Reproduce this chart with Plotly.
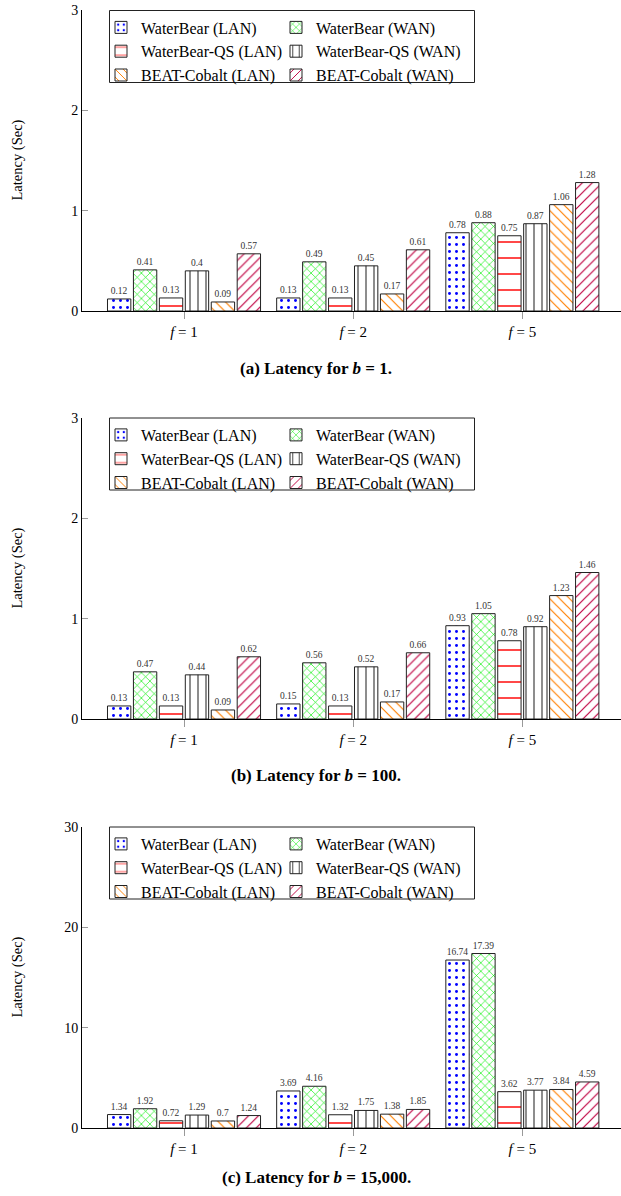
import plotly.graph_objects as go

# ---------------- data ----------------
f_values = ["1", "2", "5"]
f_ticktext = ["<i>f</i> = 1", "<i>f</i> = 2", "<i>f</i> = 5"]

series_names = [
    "WaterBear (LAN)", "WaterBear (WAN)",
    "WaterBear-QS (LAN)", "WaterBear-QS (WAN)",
    "BEAT-Cobalt (LAN)", "BEAT-Cobalt (WAN)",
]

# panel (a) b = 1
a_wb_lan = [0.12, 0.13, 0.78]
a_wb_wan = [0.41, 0.49, 0.88]
a_qs_lan = [0.13, 0.13, 0.75]
a_qs_wan = [0.4, 0.45, 0.87]
a_bc_lan = [0.09, 0.17, 1.06]
a_bc_wan = [0.57, 0.61, 1.28]

# panel (b) b = 100
b_wb_lan = [0.13, 0.15, 0.93]
b_wb_wan = [0.47, 0.56, 1.05]
b_qs_lan = [0.13, 0.13, 0.78]
b_qs_wan = [0.44, 0.52, 0.92]
b_bc_lan = [0.09, 0.17, 1.23]
b_bc_wan = [0.62, 0.66, 1.46]

# panel (c) b = 15,000
c_wb_lan = [1.34, 3.69, 16.74]
c_wb_wan = [1.92, 4.16, 17.39]
c_qs_lan = [0.72, 1.32, 3.62]
c_qs_wan = [1.29, 1.75, 3.77]
c_bc_lan = [0.7, 1.38, 3.84]
c_bc_wan = [1.24, 1.85, 4.59]

panels = [
    [a_wb_lan, a_wb_wan, a_qs_lan, a_qs_wan, a_bc_lan, a_bc_wan],
    [b_wb_lan, b_wb_wan, b_qs_lan, b_qs_wan, b_bc_lan, b_bc_wan],
    [c_wb_lan, c_wb_wan, c_qs_lan, c_qs_wan, c_bc_lan, c_bc_wan],
]
y_ranges = [[0, 3], [0, 3], [0, 30]]
y_dticks = [1, 1, 10]
captions = [
    "<b>(a) Latency for <i>b</i> = 1.</b>",
    "<b>(b) Latency for <i>b</i> = 100.</b>",
    "<b>(c) Latency for <i>b</i> = 15,000.</b>",
]

# ---------------- styling ----------------
FONT = "Liberation Serif"
patterns = [
    dict(shape=".", fgcolor="#0000ff", size=7, solidity=0.14, fgopacity=1),
    dict(shape="x", fgcolor="#00ee00", size=6, solidity=0.2, fgopacity=1),
    dict(shape="-", fgcolor="#ff0000", size=16, solidity=0.09, fgopacity=1),
    dict(shape="|", fgcolor="#333333", size=8, solidity=0.14, fgopacity=1),
    dict(shape="\\", fgcolor="#ff8000", size=7, solidity=0.17, fgopacity=1),
    dict(shape="/", fgcolor="#bf0040", size=7, solidity=0.17, fgopacity=1),
]

W, H = 621, 1196
L, R, T, B = 82, 0, 10, 68
PW, PH = W - L - R, H - T - B


def pxx(x):
    return (x - L) / PW


def pxy(y):
    return (H - B - y) / PH


# pixel positions of each panel: (top, bottom)
panel_px = [(10, 311), (418, 719), (827, 1128)]
legend_tops = [10.5, 418, 827]
caption_y = [368, 776, 1177]

fig = go.Figure()

for p, series in enumerate(panels):
    xa = "x" if p == 0 else f"x{p+1}"
    ya = "y" if p == 0 else f"y{p+1}"
    for s, vals in enumerate(series):
        legname = "legend" if (2 * p + s % 2) == 0 else f"legend{2*p + s % 2 + 1}"
        fig.add_trace(go.Bar(
            x=f_values, y=vals, name=series_names[s],
            xaxis=xa, yaxis=ya,
            marker=dict(color="white", line=dict(color="#222222", width=1),
                        pattern=patterns[s]),
            texttemplate="%{y}", textposition="outside",
            textfont=dict(family=FONT, size=9.5, color="#333333"),
            constraintext="none", cliponaxis=False,
            legend=legname, showlegend=True,
        ))

layout = dict(
    width=W, height=H,
    margin=dict(l=L, r=R, t=T, b=B, autoexpand=False),
    paper_bgcolor="white", plot_bgcolor="white",
    barmode="group", bargap=0.08, bargroupgap=0.1,
    font=dict(family=FONT, size=14, color="black"),
    shapes=[], annotations=[],
)

for p in range(3):
    top, bot = panel_px[p]
    sfx = "" if p == 0 else str(p + 1)
    layout["xaxis" + sfx] = dict(
        type="category", range=[-0.603, 2.583],
        tickvals=f_values, ticktext=f_ticktext,
        ticks="outside", ticklen=7, tickcolor="#999999",
        showline=True, linecolor="black", linewidth=1,
        showgrid=False, zeroline=False, automargin=False,
        anchor="y" + sfx, domain=[0, 1],
        tickfont=dict(family=FONT, size=15),
    )
    layout["yaxis" + sfx] = dict(
        range=y_ranges[p], dtick=y_dticks[p], tick0=0,
        ticks="inside", ticklen=6, tickcolor="#999999",
        showline=True, linecolor="black", linewidth=1,
        showgrid=False, zeroline=False, automargin=False,
        anchor="x" + sfx, domain=[pxy(bot), pxy(top)],
        tickfont=dict(family=FONT, size=14),
    )
    # y axis title
    layout["annotations"].append(dict(
        text="Latency (Sec)", textangle=-90, showarrow=False,
        xref="paper", yref="paper", x=pxx(17), y=pxy((top + bot) / 2),
        xanchor="center", yanchor="middle",
        font=dict(family=FONT, size=14.5),
    ))
    # caption
    layout["annotations"].append(dict(
        text=captions[p], showarrow=False,
        xref="paper", yref="paper", x=pxx(316), y=pxy(caption_y[p]),
        xanchor="center", yanchor="middle",
        font=dict(family=FONT, size=17),
    ))
    # legend box
    lt = legend_tops[p]
    layout["shapes"].append(dict(
        type="rect", xref="paper", yref="paper",
        x0=pxx(109.5), x1=pxx(474.5), y0=pxy(lt + 72), y1=pxy(lt),
        line=dict(color="#222222", width=1), fillcolor="white", layer="below",
    ))
    for c, xpos in enumerate([101, 276]):
        k = 2 * p + c
        name = "legend" if k == 0 else f"legend{k+1}"
        layout[name] = dict(
            x=pxx(xpos), y=pxy(lt), xanchor="left", yanchor="top",
            orientation="v", bgcolor="rgba(0,0,0,0)", borderwidth=0,
            font=dict(family=FONT, size=16, color="black"),
            traceorder="normal", tracegroupgap=0,
        )

fig.update_layout(**layout)
fig.write_html(
    "out.html",
    config={"displayModeBar": False},
    post_script="document.body.style.margin='0';document.body.style.overflow='hidden';",
)
